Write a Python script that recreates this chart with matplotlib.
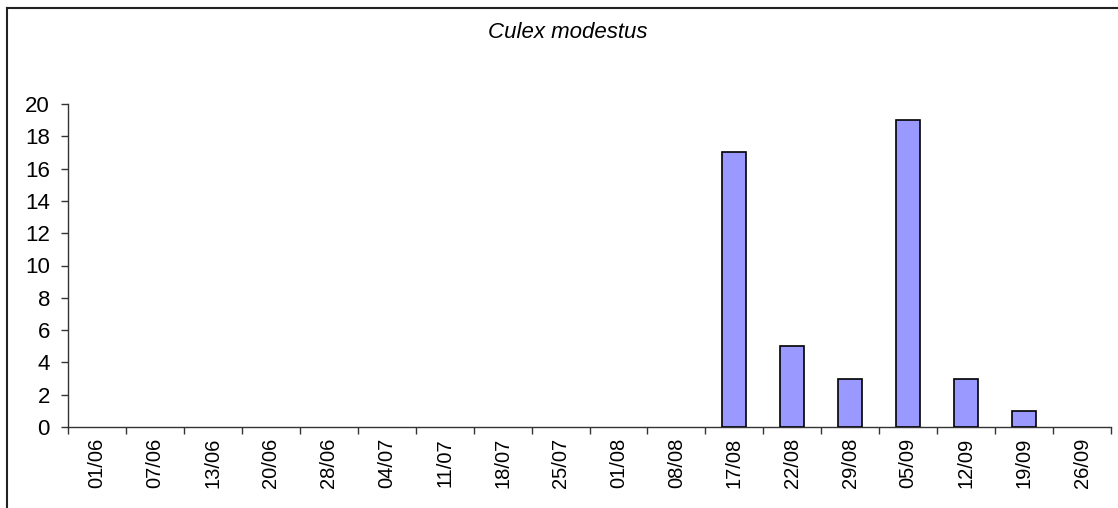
import matplotlib
matplotlib.use("Agg")
import matplotlib.pyplot as plt
import numpy as np
from matplotlib.lines import Line2D

plt.rcParams['font.family'] = ['Liberation Sans', 'DejaVu Sans']

# sampling dates and catches
dates = ['01/06', '07/06', '13/06', '20/06', '28/06', '04/07', '11/07', '18/07',
         '25/07', '01/08', '08/08', '17/08', '22/08', '29/08', '05/09', '12/09',
         '19/09', '26/09']
counts = [0, 0, 0, 0, 0, 0, 0, 0, 0, 0, 0, 17, 5, 3, 19, 3, 1, 0]
title = 'Culex modestus'

W, H = 1118, 508
fig = plt.figure(figsize=(W / 100, H / 100), dpi=100)
ax = fig.add_axes([68 / W, 1 - 427 / H, (1111 - 68) / W, (427 - 104) / H])

x = np.arange(len(dates))
bars = ax.bar(x, counts, width=0.41, color='#9999FF', edgecolor='black', linewidth=1.2, zorder=3)
# empty samples leave no mark
for b, c in zip(bars, counts):
    if c == 0:
        b.set_visible(False)

ax.set_xlim(-0.5, len(dates) - 0.5)
ax.set_ylim(0, 20)
ax.set_yticks(np.arange(0, 21, 2))
ax.set_xticks(x)
ax.set_xticklabels(dates, rotation=90)
ax.set_xticks(np.arange(-0.5, len(dates), 1), minor=True)
ax.tick_params(axis='x', which='major', length=0, pad=8, labelsize=14.5)
ax.tick_params(axis='x', which='minor', length=5, width=1, color='#333333')
ax.tick_params(axis='y', length=5, width=1, color='#333333', pad=8, labelsize=16)

for s in ['top', 'right']:
    ax.spines[s].set_visible(False)
for s in ['left', 'bottom']:
    ax.spines[s].set_color('#333333')
    ax.spines[s].set_linewidth(1)

fig.text(568 / W, 1 - 33 / H, title, ha='center', va='center', fontsize=16, style='italic')

# chart area border (left and top edges visible)
fig.add_artist(Line2D([6.5 / W, 6.5 / W], [0, 1 - 7.5 / H], color='#222222', lw=1.5))
fig.add_artist(Line2D([6.5 / W, 1], [1 - 7.5 / H, 1 - 7.5 / H], color='#222222', lw=1.5))

fig.savefig('out.png', dpi=100)
